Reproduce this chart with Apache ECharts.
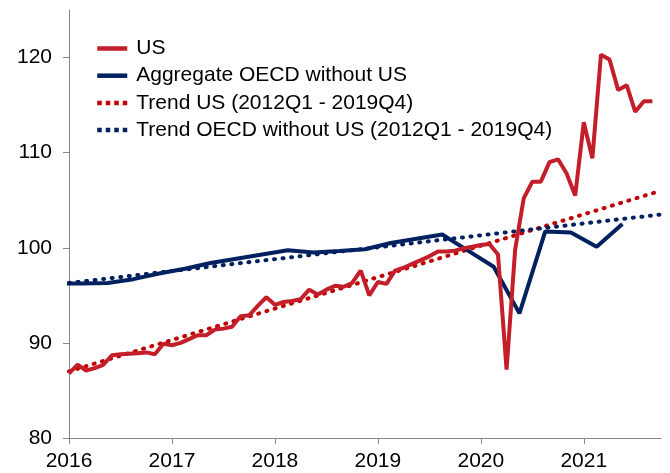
<!DOCTYPE html>
<html>
<head>
<meta charset="utf-8">
<script src="https://cdn.jsdelivr.net/npm/echarts@6/dist/echarts.min.js"></script>
<style>
    html, body { margin: 0; padding: 0; background: #fff; }
    #chart { width: 670px; height: 473px; }
</style>
</head>
<body>
<div id="chart"></div>
<script>
    // US, monthly, starting Jan 2016
    var usStartYear = 2016;
    var usValues = [
        86.8, 87.7, 87.1, 87.35, 87.7, 88.7, 88.8, 88.85, 88.9, 89.0, 88.8, 89.9,
        89.75, 90.0, 90.4, 90.8, 90.8, 91.4, 91.5, 91.7, 92.8, 92.9, 93.9, 94.8,
        94.0, 94.3, 94.4, 94.6, 95.6, 95.1, 95.6, 96.0, 95.9, 96.3, 97.6, 95.0,
        96.4, 96.2, 97.6, 97.9, 98.3, 98.7, 99.1, 99.6, 99.6, 99.7, 99.95, 100.1,
        100.3, 100.4, 99.3, 87.2, 99.8, 105.2, 106.95, 106.95, 109.0, 109.3, 107.8, 105.5,
        113.2, 109.4, 120.3, 119.8, 116.6, 117.1, 114.3, 115.4, 115.4
    ];

    // Aggregate OECD without US, quarterly, starting 2015Q4 (plotted mid-quarter)
    var oecdStartYear = 2015;
    var oecdStartQuarter = 3; // 0-based -> Q4
    var oecdValues = [
        96.25, 96.25, 96.3, 96.7, 97.3, 97.8, 98.4, 98.85, 99.3, 99.75, 99.5, 99.65,
        99.85, 100.5, 100.95, 101.4, 99.7, 98.0, 93.1, 101.7, 101.6, 100.1, 102.5
    ];

    // trend lines (2012Q1 - 2019Q4), endpoints
    var trendX = [2016, 2021.75];
    var trendUs = [87.0, 106.0];
    var trendOecd = [96.3, 103.5];

    var yearTicks = [2016, 2017, 2018, 2019, 2020, 2021];
    var valueTicks = [80, 90, 100, 110, 120];

    var names = [
        'US',
        'Aggregate OECD without US',
        'Trend US (2012Q1 - 2019Q4)',
        'Trend OECD without US (2012Q1 - 2019Q4)'
    ];

    var usData = usValues.map(function (v, i) { return [usStartYear + i / 12, v]; });
    var oecdData = oecdValues.map(function (v, i) {
        return [oecdStartYear + (oecdStartQuarter + i + 0.5) / 4, v];
    });
    var trendUsData = trendX.map(function (x, i) { return [x, trendUs[i]]; });
    var trendOecdData = trendX.map(function (x, i) { return [x, trendOecd[i]]; });

    var red = '#C41E2A';
    var redDot = '#C00000';
    var blue = '#002060';
    var axisGrey = '#868686';
    var font = '"Liberation Sans", Arial, sans-serif';

    // square dots for the dotted legend keys
    var legendDots = { type: [4.5, 4], cap: 'butt' };

    var chart = echarts.init(document.getElementById('chart'));
    chart.setOption({
        animation: false,
        backgroundColor: '#fff',
        grid: { left: 69, right: 9, top: 10, bottom: 35 },
        legend: {
            data: [
                { name: names[0] },
                { name: names[1] },
                { name: names[2], lineStyle: legendDots },
                { name: names[3], lineStyle: legendDots }
            ],
            orient: 'vertical',
            left: 95,
            top: 38,
            padding: 0,
            itemWidth: 30,
            itemHeight: 14,
            itemGap: 6.2,
            itemStyle: { opacity: 0 },
            lineStyle: { width: 4.5, cap: 'butt' },
            textStyle: {
                fontFamily: font,
                fontSize: 21,
                lineHeight: 21,
                color: '#000',
                padding: [0, 0, 0, 4]
            }
        },
        xAxis: {
            type: 'value',
            min: 2016,
            max: 2021.75,
            interval: 1,
            splitLine: { show: false },
            axisLine: { show: true, lineStyle: { color: axisGrey, width: 1 } },
            axisTick: { show: true, inside: false, length: 6, customValues: yearTicks,
                lineStyle: { color: axisGrey } },
            axisLabel: {
                customValues: yearTicks,
                margin: 13,
                color: '#000',
                fontFamily: font,
                fontSize: 21,
                formatter: function (v) { return String(v); }
            }
        },
        yAxis: {
            type: 'value',
            min: 80,
            max: 125,
            interval: 10,
            splitLine: { show: false },
            axisLine: { show: true, lineStyle: { color: axisGrey, width: 1 } },
            axisTick: { show: true, inside: false, length: 6, customValues: valueTicks,
                lineStyle: { color: axisGrey } },
            axisLabel: {
                customValues: valueTicks,
                margin: 17,
                color: '#000',
                fontFamily: font,
                fontSize: 21
            }
        },
        series: [
            {
                name: names[2],
                type: 'line',
                data: trendUsData,
                symbol: 'none',
                color: redDot,
                lineStyle: { color: redDot, width: 4, type: [1, 7.6], cap: 'round' }
            },
            {
                name: names[3],
                type: 'line',
                data: trendOecdData,
                symbol: 'none',
                color: blue,
                lineStyle: { color: blue, width: 4, type: [1, 7.6], cap: 'round' }
            },
            {
                name: names[1],
                type: 'line',
                data: oecdData,
                symbol: 'none',
                color: blue,
                clip: true,
                lineStyle: { color: blue, width: 4 }
            },
            {
                name: names[0],
                type: 'line',
                data: usData,
                symbol: 'none',
                color: red,
                lineStyle: { color: red, width: 4 }
            }
        ]
    });
</script>
</body>
</html>
